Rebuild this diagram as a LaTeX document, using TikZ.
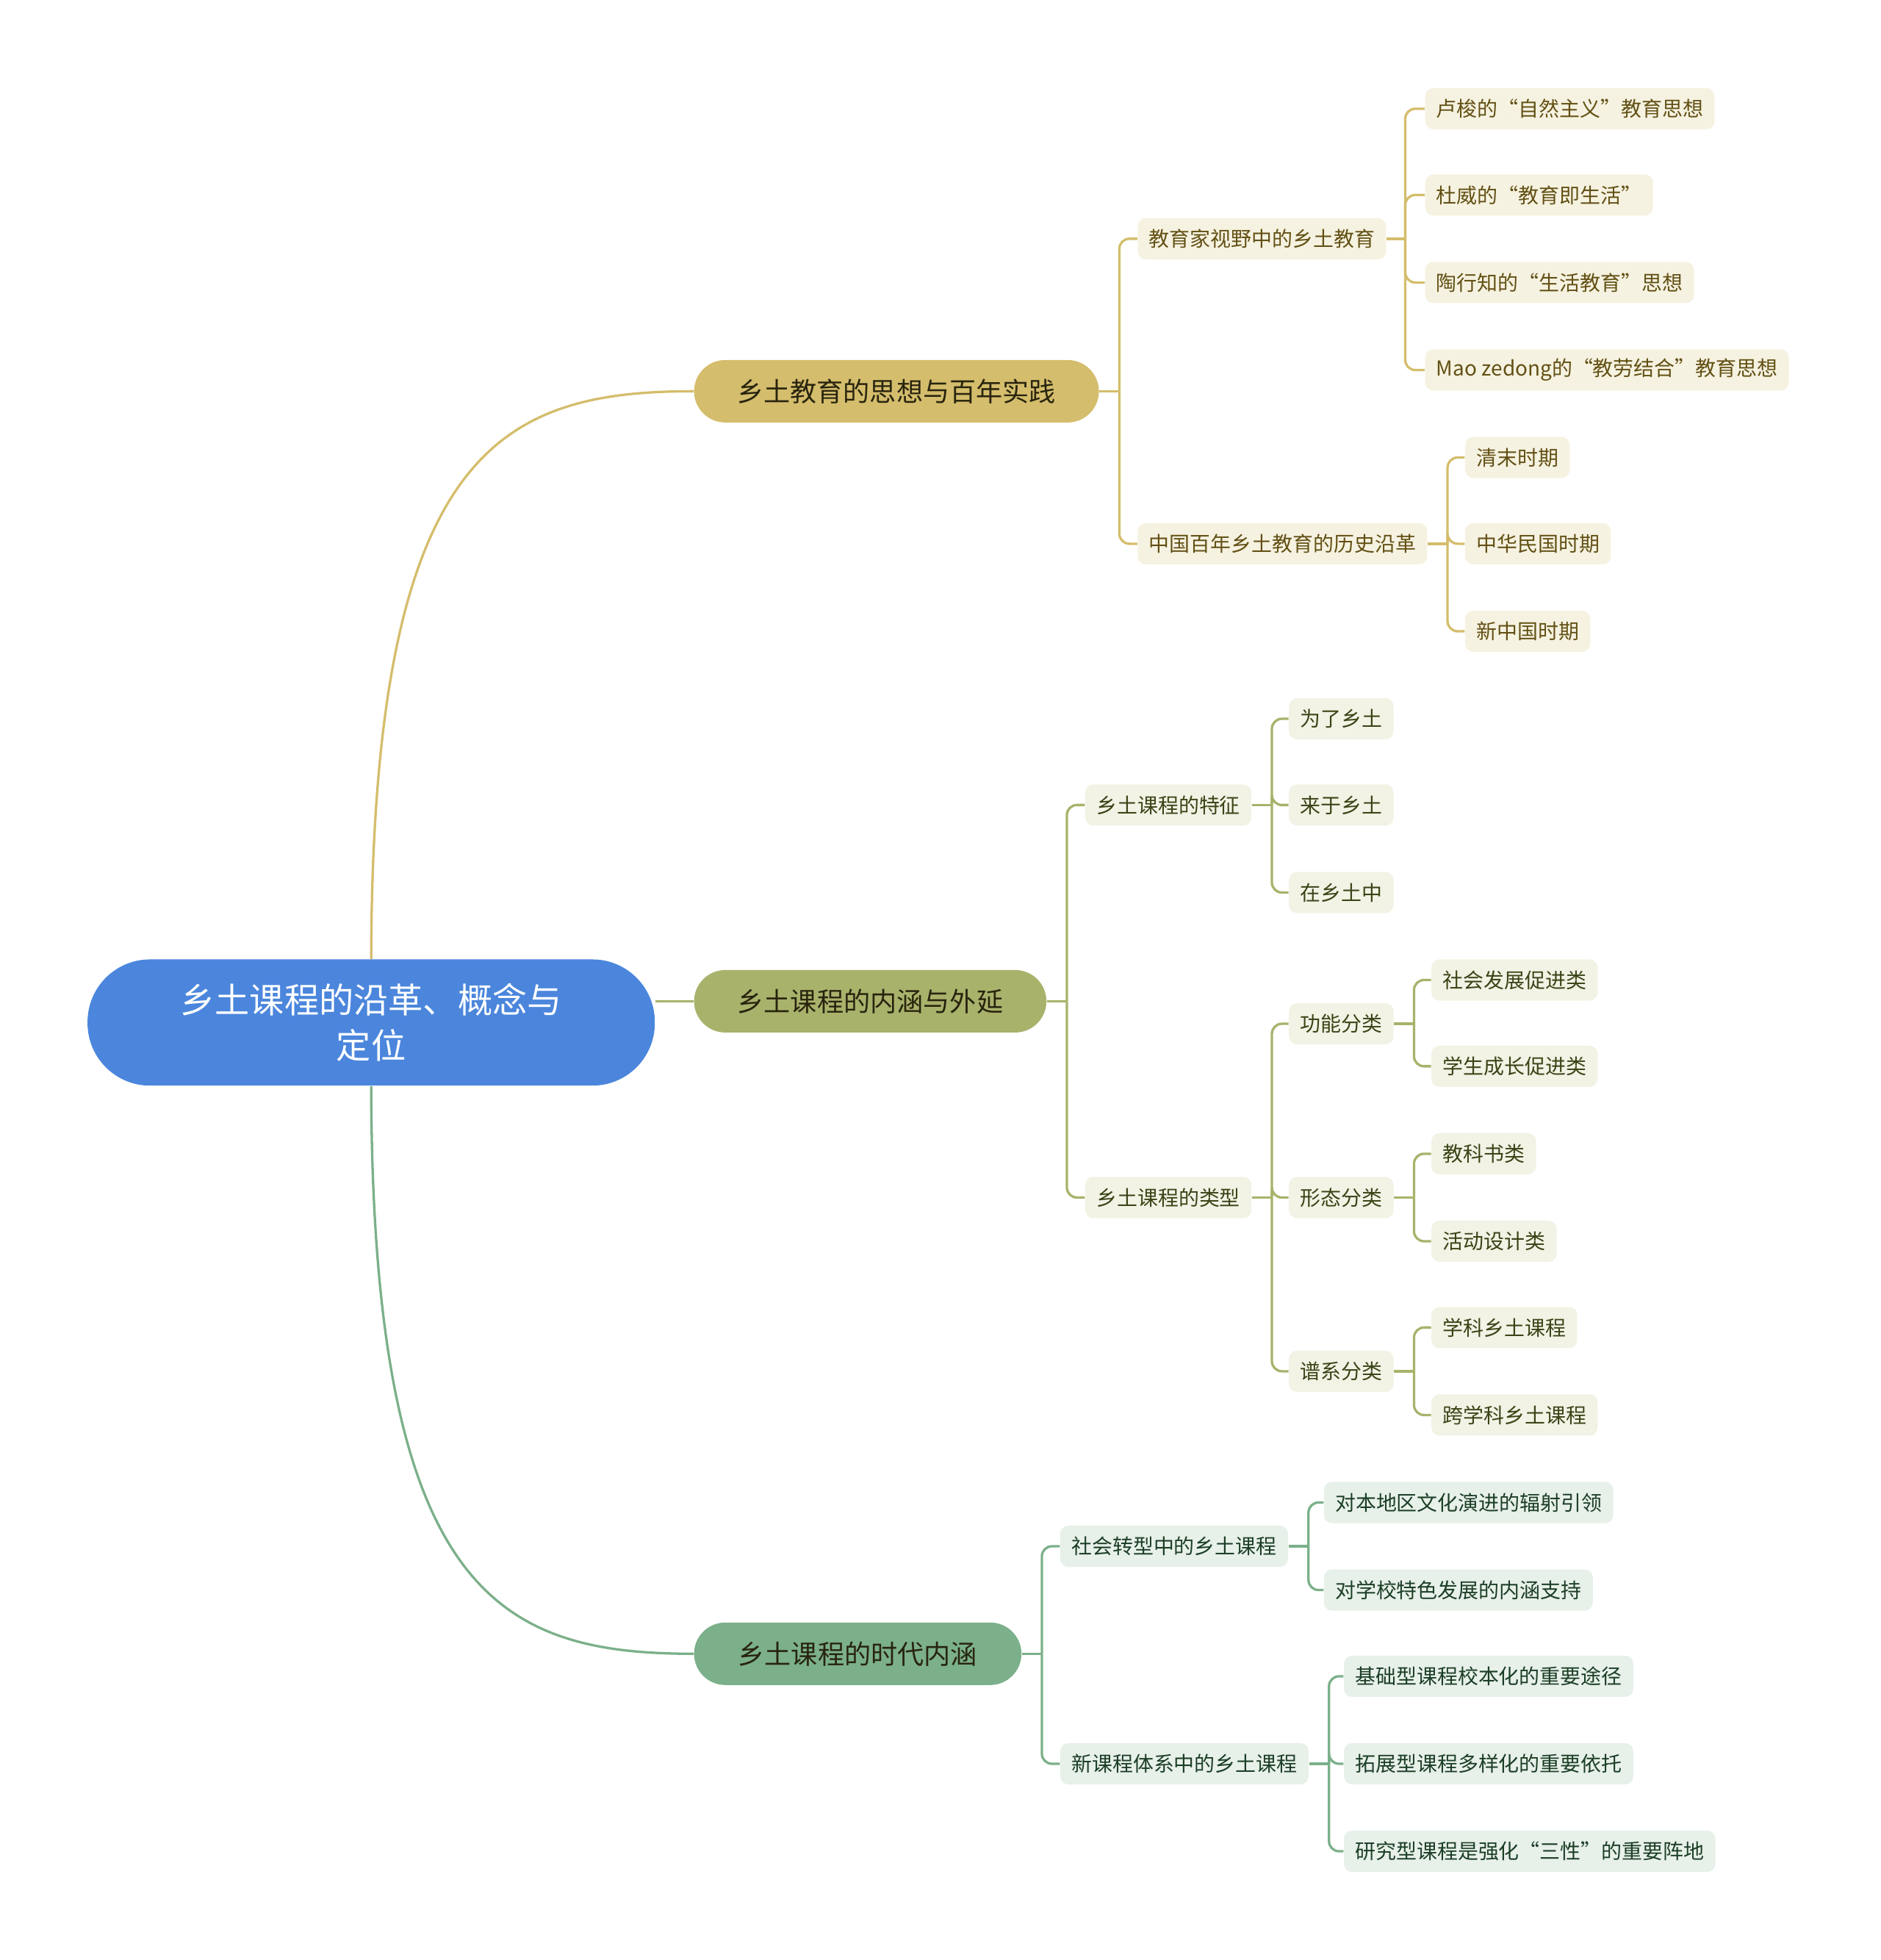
\documentclass[tikz,border=0pt]{standalone}
\usepackage{fontspec}
\setmainfont{Noto Sans CJK SC}
\usetikzlibrary{backgrounds}

\definecolor{rootblue}{RGB}{75,134,220}
\definecolor{goldfill}{RGB}{212,189,108}
\definecolor{olivefill}{RGB}{169,178,107}
\definecolor{greenfill}{RGB}{123,176,138}
\definecolor{goldleaf}{RGB}{246,242,225}
\definecolor{oliveleaf}{RGB}{242,242,229}
\definecolor{greenleaf}{RGB}{231,240,233}
\definecolor{goldtext}{RGB}{98,80,20}
\definecolor{olivetext}{RGB}{58,68,22}
\definecolor{greentext}{RGB}{28,62,38}
\definecolor{maintext}{RGB}{40,36,14}

\tikzset{
  rootnode/.style={fill=rootblue, text=white, rounded corners=1cm, minimum width=9.08cm,
    minimum height=2.02cm, align=center, font=\fontsize{15.8pt}{20.5pt}\selectfont},
  mainnode/.style={rounded corners=0.5cm, minimum height=1cm, anchor=west, text=maintext,
    font=\fontsize{12.1pt}{15pt}\selectfont},
  leafnode/.style={rounded corners=0.13cm, minimum height=0.66cm, inner xsep=0.18cm,
    inner ysep=0pt, anchor=west, font=\fontsize{9.35pt}{11pt}\selectfont},
  leafA/.style={leafnode, fill=goldleaf, text=goldtext},
  leafB/.style={leafnode, fill=oliveleaf, text=olivetext},
  leafC/.style={leafnode, fill=greenleaf, text=greentext},
  linkA/.style={draw=goldfill, line width=1.1pt, rounded corners=0.16cm},
  linkB/.style={draw=olivefill, line width=1.1pt, rounded corners=0.16cm},
  linkC/.style={draw=greenfill, line width=1.1pt, rounded corners=0.16cm},
}

\begin{document}
\begin{tikzpicture}[x=0.02cm, y=-0.02cm]
  \useasboundingbox (0,0) rectangle (1505,1568);

  % root
  \node[rootnode] (root) at (297,818) {乡土课程的沿革、概念与\\定位};

  % main branches
  \node[mainnode, fill=goldfill, minimum width=6.48cm] (thought) at (555,313) {乡土教育的思想与百年实践};
  \node[mainnode, fill=olivefill, minimum width=5.64cm] (connot) at (555,801) {乡土课程的内涵与外延};
  \node[mainnode, fill=greenfill, minimum width=5.24cm] (era) at (555,1323) {乡土课程的时代内涵};

  % branch 1
  \node[leafA] (educator) at (910,191) {教育家视野中的乡土教育};
  \node[leafA] (history) at (910,435) {中国百年乡土教育的历史沿革};
  \node[leafA] (rousseau) at (1140,87) {卢梭的“自然主义”教育思想};
  \node[leafA] (dewey) at (1140,156) {杜威的“教育即生活”};
  \node[leafA] (tao) at (1140,226) {陶行知的“生活教育”思想};
  \node[leafA] (mao) at (1140,296) {Mao zedong的“教劳结合”教育思想};
  \node[leafA] (qing) at (1172,366) {清末时期};
  \node[leafA] (minguo) at (1172,435) {中华民国时期};
  \node[leafA] (xinzg) at (1172,505) {新中国时期};

  % branch 2
  \node[leafB] (feature) at (868,644) {乡土课程的特征};
  \node[leafB] (types) at (868,958) {乡土课程的类型};
  \node[leafB] (weile) at (1031,575) {为了乡土};
  \node[leafB] (laiyu) at (1031,644) {来于乡土};
  \node[leafB] (zaixiang) at (1031,714) {在乡土中};
  \node[leafB] (func) at (1031,819) {功能分类};
  \node[leafB] (form) at (1031,958) {形态分类};
  \node[leafB] (pedig) at (1031,1097) {谱系分类};
  \node[leafB] (shehui) at (1145,784) {社会发展促进类};
  \node[leafB] (xuesheng) at (1145,853) {学生成长促进类};
  \node[leafB] (jiaoke) at (1145,923) {教科书类};
  \node[leafB] (huodong) at (1145,993) {活动设计类};
  \node[leafB] (xueke) at (1145,1062) {学科乡土课程};
  \node[leafB] (kuaxue) at (1145,1132) {跨学科乡土课程};

  % branch 3
  \node[leafC] (transf) at (848,1237) {社会转型中的乡土课程};
  \node[leafC] (newcur) at (848,1411) {新课程体系中的乡土课程};
  \node[leafC] (fushe) at (1059,1202) {对本地区文化演进的辐射引领};
  \node[leafC] (neihan) at (1059,1272) {对学校特色发展的内涵支持};
  \node[leafC] (jichu) at (1075,1341) {基础型课程校本化的重要途径};
  \node[leafC] (tuozhan) at (1075,1411) {拓展型课程多样化的重要依托};
  \node[leafC] (yanjiu) at (1075,1481) {研究型课程是强化“三性”的重要阵地};

  \begin{scope}[on background layer]
    % root to main branches
    \draw[linkA] (root.north) .. controls (298,360) and (400,313) .. (thought.west);
    \draw[linkB] (root.east |- connot.west) -- (connot.west);
    \draw[linkC] (root.south) .. controls (298,1276) and (400,1323) .. (era.west);

    % brackets, branch 1
    \path (thought.east) ++(16,0) coordinate (jthought);
    \draw[linkA] (thought.east) -- (jthought);
    \foreach \c in {educator,history} \draw[linkA] (jthought) |- (\c.west);
    \path (educator.east) ++(15,0) coordinate (jeducator);
    \draw[linkA] (educator.east) -- (jeducator);
    \foreach \c in {rousseau,dewey,tao,mao} \draw[linkA] (jeducator) |- (\c.west);
    \path (history.east) ++(16,0) coordinate (jhistory);
    \draw[linkA] (history.east) -- (jhistory);
    \foreach \c in {qing,minguo,xinzg} \draw[linkA] (jhistory) |- (\c.west);

    % brackets, branch 2
    \path (connot.east) ++(16,0) coordinate (jconnot);
    \draw[linkB] (connot.east) -- (jconnot);
    \foreach \c in {feature,types} \draw[linkB] (jconnot) |- (\c.west);
    \path (feature.east) ++(16,0) coordinate (jfeature);
    \draw[linkB] (feature.east) -- (jfeature);
    \foreach \c in {weile,laiyu,zaixiang} \draw[linkB] (jfeature) |- (\c.west);
    \path (types.east) ++(16,0) coordinate (jtypes);
    \draw[linkB] (types.east) -- (jtypes);
    \foreach \c in {func,form,pedig} \draw[linkB] (jtypes) |- (\c.west);
    \path (func.east) ++(16,0) coordinate (jfunc);
    \draw[linkB] (func.east) -- (jfunc);
    \foreach \c in {shehui,xuesheng} \draw[linkB] (jfunc) |- (\c.west);
    \path (form.east) ++(16,0) coordinate (jform);
    \draw[linkB] (form.east) -- (jform);
    \foreach \c in {jiaoke,huodong} \draw[linkB] (jform) |- (\c.west);
    \path (pedig.east) ++(16,0) coordinate (jpedig);
    \draw[linkB] (pedig.east) -- (jpedig);
    \foreach \c in {xueke,kuaxue} \draw[linkB] (jpedig) |- (\c.west);

    % brackets, branch 3
    \path (era.east) ++(16,0) coordinate (jera);
    \draw[linkC] (era.east) -- (jera);
    \foreach \c in {transf,newcur} \draw[linkC] (jera) |- (\c.west);
    \path (transf.east) ++(16,0) coordinate (jtransf);
    \draw[linkC] (transf.east) -- (jtransf);
    \foreach \c in {fushe,neihan} \draw[linkC] (jtransf) |- (\c.west);
    \path (newcur.east) ++(16,0) coordinate (jnewcur);
    \draw[linkC] (newcur.east) -- (jnewcur);
    \foreach \c in {jichu,tuozhan,yanjiu} \draw[linkC] (jnewcur) |- (\c.west);
  \end{scope}
\end{tikzpicture}
\end{document}
